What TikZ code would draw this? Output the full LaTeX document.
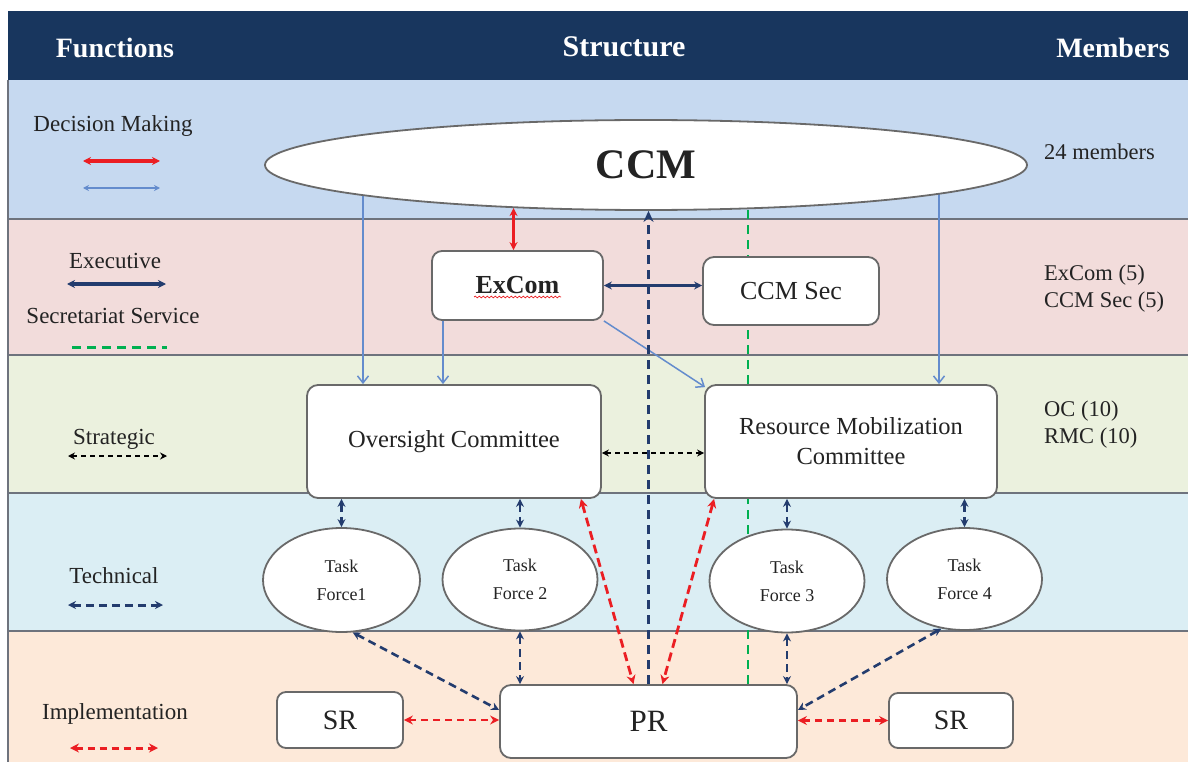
\documentclass[tikz,border=0pt]{standalone}
\usepackage{fontspec}
\setmainfont{Liberation Serif}
\usetikzlibrary{shapes.geometric,arrows.meta,calc,decorations.pathmorphing}

\definecolor{hdr}{RGB}{24,54,94}
\definecolor{bandA}{RGB}{198,217,240}
\definecolor{bandB}{RGB}{242,220,219}
\definecolor{bandC}{RGB}{235,241,222}
\definecolor{bandD}{RGB}{219,238,244}
\definecolor{bandE}{RGB}{253,233,217}
\definecolor{sepgray}{RGB}{110,115,125}
\definecolor{nodegray}{RGB}{105,105,105}
\definecolor{lblue}{RGB}{100,140,205}
\definecolor{navy}{RGB}{35,60,110}
\definecolor{redc}{RGB}{235,30,35}
\definecolor{greenc}{RGB}{0,176,80}
\definecolor{txt}{RGB}{35,35,35}

\pgfdeclarelayer{bg}
\pgfdeclarelayer{edges}
\pgfsetlayers{bg,edges,main}

\begin{document}
\begin{tikzpicture}[x=1pt,y=-1pt,
  box/.style={draw=nodegray, line width=1.8pt, fill=white, rounded corners=11pt, inner sep=0pt, text=txt},
  oval/.style={ellipse, draw=nodegray, line width=1.8pt, fill=white, inner sep=0pt, text=txt},
  lbl/.style={text=txt, inner sep=0pt, font=\fontsize{23}{27}\selectfont},
  memb/.style={text=txt, inner sep=0pt, anchor=west, align=left, font=\fontsize{22.5}{27}\selectfont},
  hdrtext/.style={text=white, inner sep=0pt, font=\bfseries\fontsize{28}{32}\selectfont},
  tfont/.style={font=\fontsize{18}{28}\selectfont, align=center},
  redarrow/.style={draw=redc, line width=3pt, {Stealth[length=8pt,width=8pt]}-{Stealth[length=8pt,width=8pt]}},
  bluethin/.style={draw=lblue, line width=1.5pt, -{Straight Barb[length=7pt,width=11pt]}},
  bluethinlg/.style={draw=lblue, line width=2.2pt, {Stealth[length=6pt,width=6pt]}-{Stealth[length=6pt,width=6pt]}},
  navyarrow/.style={draw=navy, line width=2.8pt, {Stealth[length=8pt,width=8pt]}-{Stealth[length=8pt,width=8pt]}},
  navydash/.style={draw=navy, line width=2.6pt, dash pattern=on 8pt off 5pt, {Stealth[length=8pt,width=8pt]}-{Stealth[length=8pt,width=8pt]}},
  reddash/.style={draw=redc, line width=2.8pt, dash pattern=on 9pt off 5pt, {Stealth[length=9pt,width=9pt]}-{Stealth[length=9pt,width=9pt]}},
  greendash/.style={draw=greenc, line width=2.4pt, dash pattern=on 9pt off 6pt},
  blackdash/.style={draw=black, line width=2pt, dash pattern=on 5pt off 4pt, {Stealth[length=7pt,width=7pt]}-{Stealth[length=7pt,width=7pt]}},
  upnavy/.style={draw=navy, line width=2.6pt, dash pattern=on 9pt off 6pt, -{Stealth[length=11pt,width=10pt]}}
]
\useasboundingbox (0,0) rectangle (1188,762);

% ---------- nodes ----------
\node[oval, minimum width=762pt, minimum height=90pt, font=\bfseries\fontsize{42}{46}\selectfont] (CCM) at (646,165) {CCM};
\node[box, rounded corners=10pt, minimum width=171pt, minimum height=69pt, font=\bfseries\fontsize{26}{30}\selectfont] (ExCom) at (517.5,285.5) {ExCom};
\node[box, minimum width=176pt, minimum height=68pt, font=\fontsize{26}{30}\selectfont] (CCMSec) at (791,291) {CCM Sec};
\node[box, minimum width=294pt, minimum height=113pt, font=\fontsize{24.5}{29}\selectfont] (OC) at (454,441.5) {Oversight Committee};
\node[box, minimum width=292pt, minimum height=113pt, font=\fontsize{24.5}{30}\selectfont, align=center] (RMC) at (851,441.5) {Resource Mobilization\\Committee};
\node[oval, minimum width=157pt, minimum height=104pt, tfont] (TF1) at (341.5,580) {Task\\Force1};
\node[oval, minimum width=155pt, minimum height=102pt, tfont] (TF2) at (520,579.5) {Task\\Force 2};
\node[oval, minimum width=155pt, minimum height=103pt, tfont] (TF3) at (787,581) {Task\\Force 3};
\node[oval, minimum width=155pt, minimum height=102pt, tfont] (TF4) at (964.5,579) {Task\\Force 4};
\node[box, minimum width=297pt, minimum height=73pt, font=\fontsize{31}{34}\selectfont] (PR) at (648.5,721.5) {PR};
\node[box, rounded corners=9pt, minimum width=126pt, minimum height=56pt, font=\fontsize{28}{32}\selectfont] (SRL) at (340,720) {SR};
\node[box, rounded corners=9pt, minimum width=124pt, minimum height=55pt, font=\fontsize{28}{32}\selectfont] (SRR) at (951,720.5) {SR};

% spell-check underline under ExCom
\draw[redc, line width=0.7pt, decorate, decoration={snake, amplitude=0.9pt, segment length=4pt}] (474,297) -- (561,297);

% ---------- header ----------
\fill[hdr] (8,11) rectangle (1188,80);
\node[hdrtext] (hF) at (115,48) {Functions};
\node[hdrtext, font=\bfseries\fontsize{30}{34}\selectfont] (hS) at (624,47) {Structure};
\node[hdrtext] (hM) at (1113,48) {Members};

% ---------- function labels ----------
\node[lbl] (fDM) at (113,126) {Decision Making};
\node[lbl] (fEx) at (115,261) {Executive};
\node[lbl] (fSS) at (113,316) {Secretariat Service};
\node[lbl] (fSt) at (114,439) {Strategic};
\node[lbl] (fTe) at (114,576) {Technical};
\node[lbl] (fIm) at (115,714) {Implementation};

% ---------- members ----------
\node[memb] (m1) at (1044,152) {24 members};
\node[memb] (m2) at (1044,288.5) {ExCom (5)\\CCM Sec (5)};
\node[memb] (m3) at (1044,425) {OC (10)\\RMC (10)};

% ---------- legend coordinates ----------
\coordinate (l1a) at (83,161);  \coordinate (l1b) at (160,161);
\coordinate (l2a) at (83,188);  \coordinate (l2b) at (160,188);
\coordinate (l3a) at (67,284);  \coordinate (l3b) at (166,284);
\coordinate (l4a) at (72,347);  \coordinate (l4b) at (167,347);
\coordinate (l5a) at (68,456);  \coordinate (l5b) at (167,456);
\coordinate (l6a) at (68,605);  \coordinate (l6b) at (163,605);
\coordinate (l7a) at (70,748);  \coordinate (l7b) at (158,748);

% helper x positions
\coordinate (xa) at (363,0);
\coordinate (xb) at (443,0);
\coordinate (xc) at (939,0);
\coordinate (xg) at (748,0);

% ---------- bands ----------
\begin{pgfonlayer}{bg}
  \fill[bandA] (8,80) rectangle (1188,218.5);
  \fill[bandB] (8,218.5) rectangle (1188,355);
  \fill[bandC] (8,355) rectangle (1188,493);
  \fill[bandD] (8,493) rectangle (1188,631);
  \fill[bandE] (8,631) rectangle (1188,762);
  \draw[sepgray, line width=2pt] (8,218.5) -- (1188,218.5);
  \draw[sepgray, line width=2pt] (8,355) -- (1188,355);
  \draw[sepgray, line width=2pt] (8,493) -- (1188,493);
  \draw[sepgray, line width=2pt] (8,631) -- (1188,631);
  \draw[sepgray, line width=1.5pt] (8,80) -- (8,762);
\end{pgfonlayer}

% ---------- connectors ----------
\begin{pgfonlayer}{edges}
  % legend
  \draw[redarrow, line width=3.6pt] (l1a) -- (l1b);
  \draw[bluethinlg] (l2a) -- (l2b);
  \draw[navyarrow, line width=3.2pt] (l3a) -- (l3b);
  \draw[greendash, line width=3pt] (l4a) -- (l4b);
  \draw[blackdash] (l5a) -- (l5b);
  \draw[navydash, line width=3pt] (l6a) -- (l6b);
  \draw[reddash, line width=3pt, dash pattern=on 7pt off 5pt] (l7a) -- (l7b);

  % secretariat service (green)
  \draw[greendash] (xg |- CCM.center) -- (xg |- PR.north);
  % decision making
  \draw[redarrow] (CCM.198) -- (CCM.198 |- ExCom.north);
  \draw[bluethin] (xa |- CCM.center) -- (xa |- OC.north);
  \draw[bluethin] (xc |- CCM.center) -- (xc |- RMC.north);
  \draw[bluethin] (xb |- ExCom.south) -- (xb |- OC.north);
  \draw[bluethin] (ExCom.south east) -- ([xshift=1pt,yshift=-3pt]RMC.north west);
  % executive
  \draw[navyarrow] (ExCom.east) -- (ExCom.east -| CCMSec.west);
  % PR to CCM
  \draw[upnavy] (PR.north) -- (PR.north |- CCM.south);
  % strategic
  \draw[blackdash] (OC.east |- 0,453) -- (RMC.west |- 0,453);
  % technical
  \draw[navydash] (TF1.north |- OC.south) -- (TF1.north);
  \draw[navydash] (TF2.north |- OC.south) -- (TF2.north);
  \draw[navydash] (TF3.north |- RMC.south) -- (TF3.north);
  \draw[navydash] (TF4.north |- RMC.south) -- (TF4.north);
  \draw[navydash] (TF1.-78) -- (PR.west |- 0,710);
  \draw[navydash] (TF2.south) -- (TF2.south |- PR.north);
  \draw[navydash] (TF3.south) -- (TF3.south |- PR.north);
  \draw[navydash] (TF4.-115) -- (PR.east |- 0,710);
  % implementation
  \draw[reddash] ([xshift=-21pt]OC.south east) -- ([xshift=-15pt]PR.north);
  \draw[reddash] ([xshift=10pt]RMC.south west) -- ([xshift=14pt]PR.north);
  \draw[reddash, dash pattern=on 7pt off 5pt] (SRL.east) -- (PR.west |- SRL.east);
  \draw[reddash, dash pattern=on 7pt off 5pt] (PR.east |- SRR.west) -- (SRR.west);
\end{pgfonlayer}
\end{tikzpicture}
\end{document}
